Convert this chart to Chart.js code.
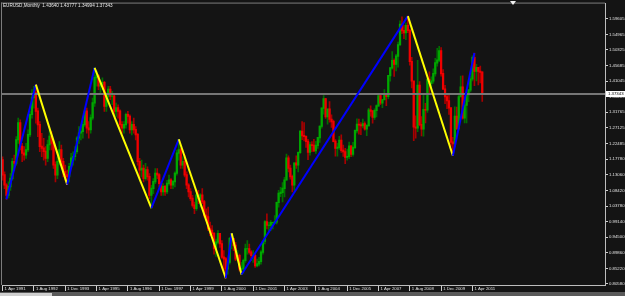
<!DOCTYPE html>
<html lang="en">
<head>
    <meta charset="UTF-8">
    <title>EURUSD,Monthly</title>
    <script src="https://cdn.jsdelivr.net/npm/chart.js"></script>
    <style>
        html, body { margin: 0; padding: 0; background: #141414; }
        #wrap { width: 625px; height: 296px; }
    </style>
</head>
<body>
<div id="wrap"><canvas id="eurusdChart" width="625" height="296"></canvas></div>

<script>
// monthly candles, first one is Apr 1991, last one Sep 2011 (in progress)
const opens = [
    1.175, 1.130, 1.100, 1.070, 1.095, 1.120, 1.170, 1.165, 1.235,
    1.285, 1.215, 1.195, 1.190, 1.205, 1.250, 1.310, 1.360, 1.375, 1.320, 1.280, 1.215,
    1.210, 1.200, 1.180, 1.220, 1.245, 1.225, 1.160, 1.130, 1.170, 1.205, 1.170, 1.140,
    1.130, 1.125, 1.155, 1.180, 1.185, 1.200, 1.240, 1.255, 1.260, 1.280, 1.320, 1.270,
    1.265, 1.300, 1.345, 1.420, 1.425, 1.395, 1.400, 1.405, 1.335, 1.365, 1.385, 1.365,
    1.365, 1.320, 1.330, 1.320, 1.280, 1.270, 1.280, 1.310, 1.305, 1.265, 1.280, 1.265,
    1.250, 1.170, 1.145, 1.150, 1.120, 1.145, 1.125, 1.070, 1.090, 1.110, 1.135, 1.130,
    1.105, 1.080, 1.095, 1.080, 1.105, 1.115, 1.100, 1.110, 1.135, 1.195, 1.205, 1.160,
    1.170, 1.130, 1.100, 1.080, 1.060, 1.040, 1.030, 1.070, 1.060, 1.070, 1.050, 1.010,
    1.005, 0.970, 0.965, 0.955, 0.910, 0.930, 0.955, 0.925, 0.885, 0.880, 0.850, 0.870,
    0.940, 0.940, 0.920, 0.880, 0.890, 0.850, 0.850, 0.875, 0.910, 0.910, 0.900, 0.890,
    0.890, 0.860, 0.865, 0.872, 0.900, 0.933, 0.990, 0.980, 0.980, 0.988, 0.988, 0.990,
    1.048, 1.075, 1.078, 1.090, 1.115, 1.180, 1.150, 1.125, 1.100, 1.165, 1.160, 1.197,
    1.260, 1.247, 1.245, 1.230, 1.198, 1.220, 1.218, 1.202, 1.218, 1.241, 1.275, 1.329,
    1.357, 1.304, 1.326, 1.296, 1.289, 1.230, 1.210, 1.212, 1.233, 1.203, 1.199, 1.183,
    1.185, 1.216, 1.192, 1.212, 1.262, 1.281, 1.279, 1.277, 1.282, 1.267, 1.277, 1.323,
    1.320, 1.302, 1.322, 1.336, 1.366, 1.345, 1.354, 1.367, 1.364, 1.426, 1.449, 1.471,
    1.460, 1.484, 1.518, 1.579, 1.560, 1.554, 1.575, 1.561, 1.468, 1.410, 1.273, 1.270,
    1.397, 1.280, 1.267, 1.325, 1.324, 1.415, 1.403, 1.410, 1.432, 1.464, 1.472, 1.500,
    1.432, 1.386, 1.363, 1.351, 1.330, 1.228, 1.223, 1.305, 1.269, 1.363, 1.392, 1.300,
    1.338, 1.369, 1.383, 1.416, 1.480, 1.439, 1.450, 1.439, 1.43640
];
const highs = [
    1.185, 1.140, 1.105, 1.110, 1.135, 1.180, 1.190, 1.245, 1.300,
    1.295, 1.225, 1.215, 1.225, 1.265, 1.320, 1.385, 1.395, 1.400, 1.330, 1.290, 1.255,
    1.240, 1.215, 1.235, 1.265, 1.260, 1.230, 1.170, 1.185, 1.230, 1.220, 1.180, 1.160,
    1.145, 1.165, 1.195, 1.200, 1.215, 1.245, 1.275, 1.275, 1.290, 1.330, 1.330, 1.290,
    1.310, 1.360, 1.450, 1.440, 1.430, 1.410, 1.420, 1.410, 1.375, 1.395, 1.395, 1.380,
    1.370, 1.345, 1.340, 1.325, 1.290, 1.290, 1.315, 1.320, 1.310, 1.290, 1.300, 1.275,
    1.255, 1.180, 1.175, 1.160, 1.165, 1.155, 1.135, 1.100, 1.120, 1.150, 1.150, 1.135,
    1.110, 1.105, 1.100, 1.115, 1.130, 1.120, 1.115, 1.140, 1.205, 1.237, 1.210, 1.185,
    1.190, 1.140, 1.105, 1.090, 1.070, 1.050, 1.075, 1.085, 1.075, 1.090, 1.055, 1.030,
    1.035, 0.990, 0.980, 0.960, 0.940, 0.965, 0.955, 0.935, 0.905, 0.885, 0.875, 0.945,
    0.957, 0.940, 0.930, 0.905, 0.895, 0.870, 0.880, 0.925, 0.935, 0.925, 0.905, 0.905,
    0.895, 0.880, 0.885, 0.905, 0.935, 0.995, 1.015, 0.990, 0.995, 0.990, 1.010, 1.050,
    1.085, 1.094, 1.108, 1.124, 1.193, 1.188, 1.160, 1.130, 1.167, 1.188, 1.200, 1.263,
    1.290, 1.287, 1.246, 1.237, 1.228, 1.230, 1.237, 1.231, 1.242, 1.277, 1.330, 1.367,
    1.359, 1.327, 1.349, 1.310, 1.294, 1.236, 1.225, 1.246, 1.250, 1.220, 1.210, 1.208,
    1.229, 1.218, 1.228, 1.265, 1.298, 1.297, 1.287, 1.297, 1.289, 1.281, 1.329, 1.337,
    1.323, 1.328, 1.340, 1.368, 1.368, 1.356, 1.385, 1.371, 1.427, 1.450, 1.498, 1.477,
    1.490, 1.527, 1.590, 1.602, 1.577, 1.584, 1.604, 1.564, 1.481, 1.410, 1.307, 1.472,
    1.409, 1.305, 1.373, 1.344, 1.417, 1.438, 1.423, 1.447, 1.478, 1.508, 1.514, 1.510,
    1.445, 1.398, 1.374, 1.369, 1.330, 1.243, 1.334, 1.333, 1.370, 1.425, 1.426, 1.345,
    1.378, 1.386, 1.425, 1.486, 1.494, 1.460, 1.449, 1.455, 1.43777
];
const lows = [
    1.115, 1.090, 1.058, 1.062, 1.085, 1.115, 1.145, 1.160, 1.225,
    1.205, 1.170, 1.175, 1.180, 1.200, 1.245, 1.300, 1.330, 1.285, 1.245, 1.200, 1.185,
    1.175, 1.160, 1.170, 1.205, 1.205, 1.150, 1.110, 1.120, 1.160, 1.160, 1.125, 1.115,
    1.102, 1.110, 1.150, 1.160, 1.175, 1.195, 1.225, 1.235, 1.240, 1.275, 1.255, 1.240,
    1.255, 1.295, 1.335, 1.395, 1.385, 1.370, 1.385, 1.320, 1.320, 1.350, 1.355, 1.340,
    1.310, 1.305, 1.300, 1.270, 1.255, 1.255, 1.270, 1.285, 1.255, 1.250, 1.255, 1.235,
    1.160, 1.120, 1.125, 1.110, 1.115, 1.115, 1.060, 1.032, 1.075, 1.105, 1.120, 1.095,
    1.070, 1.070, 1.070, 1.075, 1.100, 1.090, 1.090, 1.095, 1.130, 1.175, 1.150, 1.150,
    1.125, 1.090, 1.065, 1.055, 1.035, 1.015, 1.025, 1.045, 1.035, 1.045, 1.005, 0.995,
    0.965, 0.950, 0.950, 0.895, 0.888, 0.925, 0.915, 0.882, 0.845, 0.823, 0.835, 0.865,
    0.910, 0.905, 0.875, 0.875, 0.845, 0.834, 0.838, 0.870, 0.895, 0.895, 0.875, 0.870,
    0.855, 0.857, 0.860, 0.865, 0.895, 0.925, 0.970, 0.960, 0.965, 0.970, 0.985, 0.985,
    1.035, 1.066, 1.050, 1.065, 1.115, 1.140, 1.118, 1.080, 1.085, 1.150, 1.140, 1.195,
    1.236, 1.232, 1.213, 1.176, 1.190, 1.200, 1.200, 1.195, 1.210, 1.228, 1.270, 1.312,
    1.299, 1.282, 1.288, 1.272, 1.229, 1.187, 1.187, 1.207, 1.198, 1.186, 1.164, 1.175,
    1.179, 1.185, 1.187, 1.209, 1.256, 1.252, 1.251, 1.271, 1.264, 1.248, 1.276, 1.306,
    1.285, 1.296, 1.304, 1.335, 1.340, 1.331, 1.356, 1.337, 1.358, 1.410, 1.446, 1.424,
    1.441, 1.452, 1.517, 1.552, 1.537, 1.534, 1.555, 1.458, 1.390, 1.233, 1.240, 1.260,
    1.277, 1.247, 1.246, 1.286, 1.317, 1.370, 1.385, 1.404, 1.425, 1.455, 1.468, 1.425,
    1.385, 1.343, 1.328, 1.311, 1.216, 1.188, 1.216, 1.266, 1.265, 1.364, 1.297, 1.286,
    1.286, 1.349, 1.378, 1.411, 1.397, 1.411, 1.399, 1.405, 1.34994
];
const closes = [
    1.130, 1.100, 1.070, 1.095, 1.120, 1.170, 1.165, 1.235, 1.285,
    1.215, 1.195, 1.190, 1.205, 1.250, 1.310, 1.360, 1.375, 1.320, 1.280, 1.215, 1.210,
    1.200, 1.180, 1.220, 1.245, 1.225, 1.160, 1.130, 1.170, 1.205, 1.170, 1.140, 1.130,
    1.125, 1.155, 1.180, 1.185, 1.200, 1.240, 1.255, 1.260, 1.280, 1.320, 1.270, 1.265,
    1.300, 1.345, 1.420, 1.425, 1.395, 1.400, 1.405, 1.335, 1.365, 1.385, 1.365, 1.365,
    1.320, 1.330, 1.320, 1.280, 1.270, 1.280, 1.310, 1.305, 1.265, 1.280, 1.265, 1.250,
    1.170, 1.145, 1.150, 1.120, 1.145, 1.125, 1.070, 1.090, 1.110, 1.135, 1.130, 1.105,
    1.080, 1.095, 1.080, 1.105, 1.115, 1.100, 1.110, 1.135, 1.195, 1.205, 1.160, 1.170,
    1.130, 1.100, 1.080, 1.060, 1.040, 1.030, 1.070, 1.060, 1.070, 1.050, 1.010, 1.005,
    0.970, 0.965, 0.955, 0.910, 0.930, 0.955, 0.925, 0.885, 0.880, 0.850, 0.870, 0.940,
    0.940, 0.920, 0.880, 0.890, 0.850, 0.850, 0.875, 0.910, 0.910, 0.900, 0.890, 0.890,
    0.860, 0.865, 0.872, 0.900, 0.933, 0.990, 0.980, 0.980, 0.988, 0.988, 0.990, 1.048,
    1.075, 1.078, 1.090, 1.115, 1.180, 1.150, 1.125, 1.100, 1.165, 1.160, 1.197, 1.260,
    1.247, 1.245, 1.230, 1.198, 1.220, 1.218, 1.202, 1.218, 1.241, 1.275, 1.329, 1.357,
    1.304, 1.326, 1.296, 1.289, 1.230, 1.210, 1.212, 1.233, 1.203, 1.199, 1.183, 1.185,
    1.216, 1.192, 1.212, 1.262, 1.281, 1.279, 1.277, 1.282, 1.267, 1.277, 1.323, 1.320,
    1.302, 1.322, 1.336, 1.366, 1.345, 1.354, 1.367, 1.364, 1.426, 1.449, 1.471, 1.460,
    1.484, 1.518, 1.579, 1.560, 1.554, 1.575, 1.561, 1.468, 1.410, 1.273, 1.270, 1.397,
    1.280, 1.267, 1.325, 1.324, 1.415, 1.403, 1.410, 1.432, 1.464, 1.472, 1.500, 1.432,
    1.386, 1.363, 1.351, 1.330, 1.228, 1.223, 1.305, 1.269, 1.363, 1.392, 1.300, 1.338,
    1.369, 1.383, 1.416, 1.480, 1.439, 1.450, 1.439, 1.436, 1.37343
];

// zigzag pivots (month index from Apr 1991, price)
const zigzagMonths = [2, 17, 33, 47, 76, 90, 114, 117, 122, 207, 230, 241];
const zigzagPrices = [1.058, 1.400, 1.102, 1.450, 1.032, 1.237, 0.823, 0.957, 0.834, 1.604, 1.188, 1.494];

const xTickMonths = [0, 16, 32, 48, 64, 80, 96, 112, 128, 144, 160, 176, 192, 208, 224, 240];
const xTickLabels = ['1 Apr 1991', '1 Aug 1992', '1 Dec 1993', '1 Apr 1995', '1 Aug 1996', '1 Dec 1997',
    '1 Apr 1999', '1 Aug 2000', '1 Dec 2001', '1 Apr 2003', '1 Aug 2004', '1 Dec 2005',
    '1 Apr 2007', '1 Aug 2008', '1 Dec 2009', '1 Apr 2011'];
const yTickValues = [1.59605, 1.54965, 1.50325, 1.45685, 1.41045, 1.36405, 1.31765, 1.27125, 1.22485,
    1.17780, 1.13060, 1.08420, 1.03780, 0.99140, 0.94500, 0.89860, 0.85220, 0.80580];

const lastPrice = 1.37343;
const headerText = 'EURUSD,Monthly  1.43640 1.43777 1.34994 1.37343';

const UP = '#00a800', DOWN = '#f00000';
const UP_WICK = '#006e00', DOWN_WICK = '#a80000';
const FONT = '"Liberation Sans", Arial, sans-serif';

const isUp = closes.map((c, i) => c >= opens[i]);
const wickData = closes.map((c, i) => ({ x: i, y: [lows[i], highs[i]] }));
const bodyData = closes.map((c, i) => ({ x: i, y: [Math.min(opens[i], c), Math.max(opens[i], c) + 0.0015] }));
const zigzagData = zigzagMonths.map((m, i) => ({ x: m, y: zigzagPrices[i] }));

const terminalLook = {
    id: 'terminalLook',
    beforeDraw(chart) {
        const c = chart.ctx;
        c.save();
        c.fillStyle = '#141414';
        c.fillRect(0, 0, chart.width, chart.height);
        c.restore();
    },
    afterDatasetDraw(chart, args) {
        // price line sits over the candles but under the zigzag
        if (args.index !== 1) return;
        const c = chart.ctx, a = chart.chartArea;
        const y = Math.round(chart.scales.y.getPixelForValue(lastPrice));
        c.save();
        c.fillStyle = '#777777';
        c.fillRect(a.left, y - 1, a.right - a.left, 2);
        c.restore();
    },
    afterDraw(chart) {
        const c = chart.ctx, a = chart.chartArea;
        c.save();
        // frame
        c.fillStyle = '#7c7c7c';
        c.fillRect(a.left - 1, a.top - 1, a.right - a.left + 1, 1);
        c.fillRect(a.left - 1, a.top - 1, 1, a.bottom - a.top + 1);
        // header
        c.font = '4.6px ' + FONT;
        c.fillStyle = '#e8e8e8';
        c.textBaseline = 'middle';
        c.fillText(headerText, 3, 6);
        // shift marker
        c.fillStyle = '#f0f0f0';
        c.beginPath();
        c.moveTo(510, 1);
        c.lineTo(516, 1);
        c.lineTo(513, 5);
        c.closePath();
        c.fill();
        // last price box on the axis
        const y = Math.round(chart.scales.y.getPixelForValue(lastPrice));
        c.fillStyle = '#ffffff';
        c.fillRect(a.right + 1, y - 3, 19, 6);
        c.fillStyle = '#000000';
        c.font = '4.3px ' + FONT;
        c.fillText(lastPrice.toFixed(5), a.right + 3, y);
        // bottom strip
        c.fillStyle = '#5a5a5a';
        c.fillRect(0, 292, chart.width, 4);
        c.fillStyle = '#cfcfcf';
        c.fillRect(0, 293, 52, 3);
        c.restore();
    }
};

const ctx = document.getElementById('eurusdChart').getContext('2d');
new Chart(ctx, {
    type: 'bar',
    data: {
        datasets: [
            {
                type: 'line',
                data: zigzagData,
                borderWidth: 2,
                pointRadius: 0,
                tension: 0,
                segment: {
                    borderColor: s => s.p1.parsed.y > s.p0.parsed.y ? '#0000ff' : '#ffff00'
                },
                order: 0
            },
            {
                data: bodyData,
                backgroundColor: isUp.map(u => u ? UP : DOWN),
                barThickness: 1.6,
                grouped: false,
                order: 1
            },
            {
                data: wickData,
                backgroundColor: isUp.map(u => u ? UP_WICK : DOWN_WICK),
                barThickness: 1,
                grouped: false,
                order: 2
            }
        ]
    },
    options: {
        responsive: false,
        animation: false,
        events: [],
        layout: { autoPadding: false, padding: { left: 2, top: 2, right: 0, bottom: 0 } },
        plugins: { legend: { display: false }, tooltip: { enabled: false } },
        scales: {
            x: {
                type: 'linear',
                offset: false,
                min: -0.3,
                max: 307.7,
                afterBuildTicks: s => { s.ticks = xTickMonths.map(v => ({ value: v })); },
                afterFit: s => { s.height = 11; },
                grid: { offset: false, drawOnChartArea: false, tickLength: 6, tickColor: '#d0d0d0' },
                border: { color: '#bdbdbd', width: 1 },
                ticks: {
                    autoSkip: false,
                    maxRotation: 0,
                    align: 'start',
                    labelOffset: 2,
                    padding: -5,
                    color: '#e0e0e0',
                    font: { family: FONT, size: 4.3 },
                    callback: (v, i) => xTickLabels[i]
                }
            },
            y: {
                position: 'right',
                min: 0.8028,
                max: 1.6414,
                afterBuildTicks: s => { s.ticks = yTickValues.map(v => ({ value: v })); },
                afterFit: s => { s.width = 20; },
                grid: { drawOnChartArea: false, tickLength: 3, tickColor: '#d0d0d0' },
                border: { color: '#bdbdbd', width: 1 },
                ticks: {
                    padding: 1,
                    color: '#e0e0e0',
                    font: { family: FONT, size: 4.3 },
                    callback: (v, i) => yTickValues[i].toFixed(5)
                }
            }
        }
    },
    plugins: [terminalLook]
});
</script>
</body>
</html>
